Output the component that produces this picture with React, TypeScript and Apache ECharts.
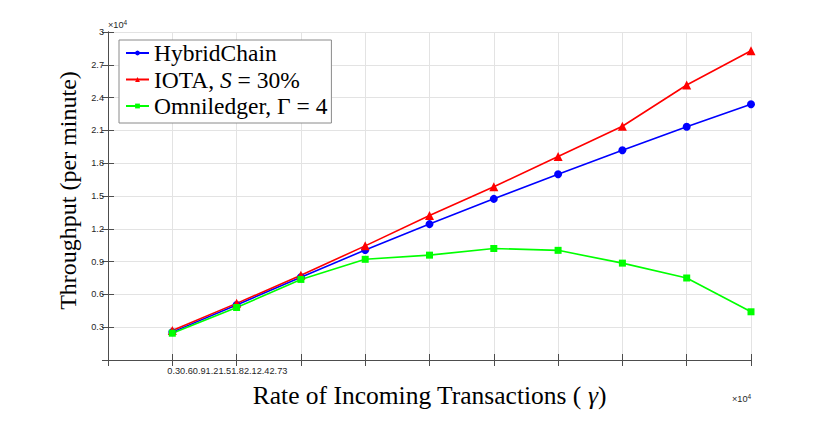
import React, { useEffect, useRef } from "react";
import * as echarts from "echarts";

const X_VALUES = [3000, 6000, 9000, 12000, 15000, 18000, 21000, 24000, 27000, 30000];
const HYBRID = [2550, 5030, 7570, 10060, 12430, 14740, 16990, 19180, 21340, 23390];
const IOTA = [2690, 5180, 7750, 10440, 13220, 15850, 18620, 21380, 25150, 28280];
const OMNI = [2450, 4800, 7370, 9210, 9590, 10200, 10030, 8860, 7500, 4410];
const X_TICK_LABELS = ["0.3", "0.6", "0.9", "1.2", "1.5", "1.8", "2.1", "2.4", "2.7", "3"];
const SERIES_NAMES = ["HybridChain", "IOTA, S = 30%", "Omniledger, Γ = 4"];
const LEGEND_RICH = ["HybridChain", "IOTA, {i|S} = 30%", "Omniledger, Γ = 4"];

const SERIF = "'Liberation Serif', 'DejaVu Serif', serif";
const SANS = "'Liberation Sans', Arial, sans-serif";
const AXIS_COLOR = "#4d4d4d";
const TEXT_COLOR = "#262626";
const GRID_COLOR = "#e3e3e3";

export default function App() {
  const ref = useRef<HTMLDivElement>(null);
  useEffect(() => {
    if (!ref.current) return;
    const chart = echarts.init(ref.current, null, { renderer: "svg" });
    const pairs = (ys: number[]) => X_VALUES.map((x, i) => [x, ys[i]]);
    const baseAxisLine = { show: true, lineStyle: { color: AXIS_COLOR, width: 1 } };
    const tick = { show: true, inside: true, length: 6, lineStyle: { color: AXIS_COLOR } };
    const mk = (name: string, data: number[], color: string, symbol: string, size: number) => ({
      name,
      type: "line",
      data: pairs(data),
      symbol,
      symbolSize: size,
      lineStyle: { color, width: 1.6 },
      itemStyle: { color },
      emphasis: { disabled: true },
    });
    const sup = {
      s: { fontSize: 6.5, verticalAlign: "top", padding: [0, 0, 5, 0], fontFamily: SANS, fill: TEXT_COLOR },
    };
    chart.setOption({
      animation: false,
      grid: { left: 100, right: 71, top: 24, bottom: 39 },
      legend: {
        orient: "vertical",
        left: 111,
        top: 32,
        padding: [0, 4, 4, 6],
        itemGap: 0.5,
        itemWidth: 23,
        itemHeight: 6,
        backgroundColor: "#ffffff",
        borderColor: "#8a8a8a",
        borderWidth: 1,
        borderRadius: 0,
        data: SERIES_NAMES,
        formatter: (n: string) => LEGEND_RICH[SERIES_NAMES.indexOf(n)],
        textStyle: {
          fontFamily: SERIF,
          fontSize: 23.5,
          lineHeight: 26,
          color: "#000",
          rich: {
            i: { fontFamily: SERIF, fontSize: 23.5, fontStyle: "italic", color: "#000", lineHeight: 26 },
          },
        },
      },
      xAxis: [
        {
          type: "value",
          min: 0,
          max: 30000,
          interval: 3000,
          position: "bottom",
          axisLine: baseAxisLine,
          axisTick: tick,
          splitLine: { show: true, lineStyle: { color: GRID_COLOR, width: 1 } },
          axisLabel: {
            show: true,
            margin: 6,
            align: "left",
            fontFamily: SANS,
            fontSize: 9.2,
            color: TEXT_COLOR,
            padding: [0, 0, 0, -5],
            formatter: (v: number) => (v === X_VALUES[0] ? X_TICK_LABELS.join("") : ""),
          },
          name: "Rate of Incoming Transactions ( {g|γ})",
          nameLocation: "middle",
          nameGap: 22,
          nameTextStyle: {
            fontFamily: SERIF,
            fontSize: 25.5,
            color: "#000",
            rich: { g: { fontFamily: SERIF, fontSize: 25.5, fontStyle: "italic", color: "#000" } },
          },
        },
        {
          type: "value",
          min: 0,
          max: 30000,
          interval: 3000,
          position: "top",
          axisLine: baseAxisLine,
          axisTick: tick,
          splitLine: { show: false },
          axisLabel: { show: false },
        },
      ],
      yAxis: [
        {
          type: "value",
          min: 0,
          max: 30000,
          interval: 3000,
          position: "left",
          axisLine: baseAxisLine,
          axisTick: tick,
          splitLine: { show: true, lineStyle: { color: GRID_COLOR, width: 1 } },
          axisLabel: {
            margin: 4,
            fontFamily: SANS,
            fontSize: 9.2,
            color: TEXT_COLOR,
            formatter: (v: number) => (v === 0 ? "" : String(+(v / 10000).toFixed(1))),
          },
          name: "Throughput (per minute)",
          nameLocation: "middle",
          nameGap: 5,
          nameTextStyle: { fontFamily: SERIF, fontSize: 24, color: "#000", padding: [0, 0, 0, 11] },
        },
        {
          type: "value",
          min: 0,
          max: 30000,
          interval: 3000,
          position: "right",
          axisLine: baseAxisLine,
          axisTick: tick,
          splitLine: { show: false },
          axisLabel: { show: false },
        },
      ],
      graphic: [
        {
          type: "text",
          left: 100,
          top: 11,
          style: { text: "×10{s|4}", fontFamily: SANS, fontSize: 9.2, fill: TEXT_COLOR, rich: sup },
        },
        {
          type: "text",
          left: 724,
          top: 385,
          style: { text: "×10{s|4}", fontFamily: SANS, fontSize: 9.2, fill: TEXT_COLOR, rich: sup },
        },
      ],
      series: [
        mk(SERIES_NAMES[0], HYBRID, "#0000ff", "circle", 8),
        mk(SERIES_NAMES[1], IOTA, "#ff0000", "triangle", 9),
        mk(SERIES_NAMES[2], OMNI, "#00ff00", "rect", 7),
      ],
    });
    return () => chart.dispose();
  }, []);
  return <div ref={ref} style={{ width: 814, height: 405 }} />;
}
